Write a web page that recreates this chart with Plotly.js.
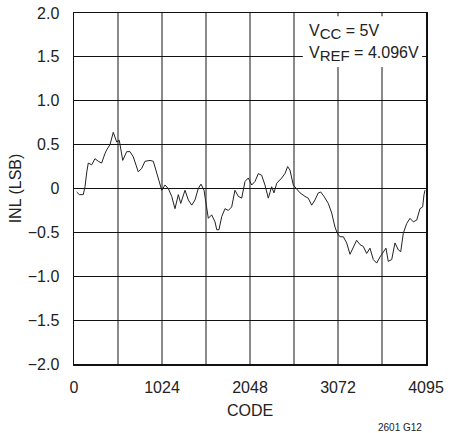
<!DOCTYPE html>
<html>
<head>
<meta charset="utf-8">
<script src="https://cdn.plot.ly/plotly-3.0.1.min.js"></script>
<style>html,body{margin:0;padding:0;background:#fff;}#chart{width:450px;height:433px;}</style>
</head>
<body>
<div id="chart"></div>
<script>
const code = [31,62,108,128,149,166,206,244,283,322,361,380,419,457,497,527,567,613,652,690,748,788,826,884,923,962,1001,1021,1059,1097,1137,1175,1214,1242,1292,1330,1370,1408,1446,1478,1513,1544,1563,1602,1641,1661,1687,1719,1757,1796,1835,1873,1912,1951,1990,2028,2068,2106,2145,2184,2222,2261,2300,2327,2359,2417,2455,2486,2513,2552,2591,2630,2688,2726,2766,2804,2843,2871,2909,2959,2999,3037,3064,3095,3134,3173,3212,3250,3289,3328,3366,3406,3444,3483,3522,3561,3599,3630,3657,3697,3735,3774,3802,3832,3871,3910,3948,3988,4026,4057,4073,4084];
const inl = [-0.04,-0.07,-0.07,0.02,0.19,0.29,0.27,0.34,0.31,0.29,0.40,0.44,0.50,0.64,0.53,0.55,0.32,0.42,0.42,0.36,0.19,0.23,0.31,0.32,0.31,0.17,0.06,-0.02,0.04,0.00,-0.09,-0.23,-0.07,-0.17,-0.02,-0.13,-0.19,-0.13,0.00,0.05,-0.02,-0.25,-0.34,-0.30,-0.38,-0.47,-0.47,-0.32,-0.23,-0.25,-0.21,-0.02,-0.09,-0.11,0.08,0.12,0.04,0.08,0.17,0.15,0.04,-0.11,0.02,-0.05,0.06,0.12,0.17,0.25,0.21,0.04,0.00,-0.05,-0.09,-0.11,-0.19,-0.13,-0.05,-0.04,-0.09,-0.17,-0.28,-0.44,-0.51,-0.55,-0.55,-0.62,-0.75,-0.66,-0.59,-0.64,-0.66,-0.74,-0.68,-0.81,-0.85,-0.78,-0.72,-0.68,-0.83,-0.81,-0.62,-0.70,-0.72,-0.51,-0.40,-0.34,-0.38,-0.36,-0.23,-0.21,-0.07,-0.02];
const xTickVals = [0,512,1024,1536,2048,2560,3072,3584,4096];
const xTickText = ["0","","1024","","2048","","3072","","4095"];
const yTickVals = [-2,-1.5,-1,-0.5,0,0.5,1,1.5,2];
const yTickText = ["\u22122.0","\u22121.5","\u22121.0","\u22120.5","0","0.5","1.0","1.5","2.0"];

const FONT = "Liberation Sans Narrow, Liberation Sans, Arial, sans-serif";
const trace = {x: code, y: inl, type: 'scatter', mode: 'lines',
  line: {color: '#222', width: 1}, hoverinfo: 'skip'};
const layout = {
  width: 450, height: 433,
  margin: {l: 74, r: 24, t: 13, b: 69},
  paper_bgcolor: '#fff', plot_bgcolor: '#fff',
  font: {family: FONT, size: 16, color: '#222'},
  showlegend: false,
  xaxis: {range: [0, 4096], tickvals: xTickVals, ticktext: xTickText,
    showgrid: true, gridcolor: '#8a8a8a', gridwidth: 1.5, zeroline: false,
    showline: true, mirror: true, linecolor: '#111', linewidth: 1.5,
    ticks: '', ticklabelstandoff: 8,
    title: {text: 'CODE', font: {size: 16}, standoff: 10}},
  yaxis: {range: [-2, 2], tickvals: yTickVals, ticktext: yTickText,
    showgrid: true, gridcolor: '#111', gridwidth: 1, zeroline: false,
    showline: true, mirror: true, linecolor: '#111', linewidth: 1.5,
    ticks: '', ticklabelstandoff: 10,
    title: {text: 'INL (LSB)', font: {size: 16}, standoff: 2}},
  shapes: [{type: 'rect', xref: 'paper', yref: 'paper', x0: 0.65, x1: 0.989, y0: 0.846, y1: 0.991,
    fillcolor: '#fff', line: {width: 0}, layer: 'above'}],
  annotations: [
    {xref: 'paper', yref: 'paper', x: 0.662, y: 0.945, xanchor: 'left', yanchor: 'middle', showarrow: false,
     text: 'V<sub><span style="font-size:15px">CC</span></sub> = 5V', font: {size: 16}},
    {xref: 'paper', yref: 'paper', x: 0.662, y: 0.882, xanchor: 'left', yanchor: 'middle', showarrow: false,
     text: 'V<sub><span style="font-size:15px">REF</span></sub> = 4.096V', font: {size: 16}},
    {xref: 'paper', yref: 'paper', x: 0.994, y: -0.182, xanchor: 'right', yanchor: 'middle', showarrow: false,
     text: '2601 G12', font: {size: 10}}
  ]
};
Plotly.newPlot('chart', [trace], layout, {staticPlot: true, displayModeBar: false});
</script>
</body>
</html>
